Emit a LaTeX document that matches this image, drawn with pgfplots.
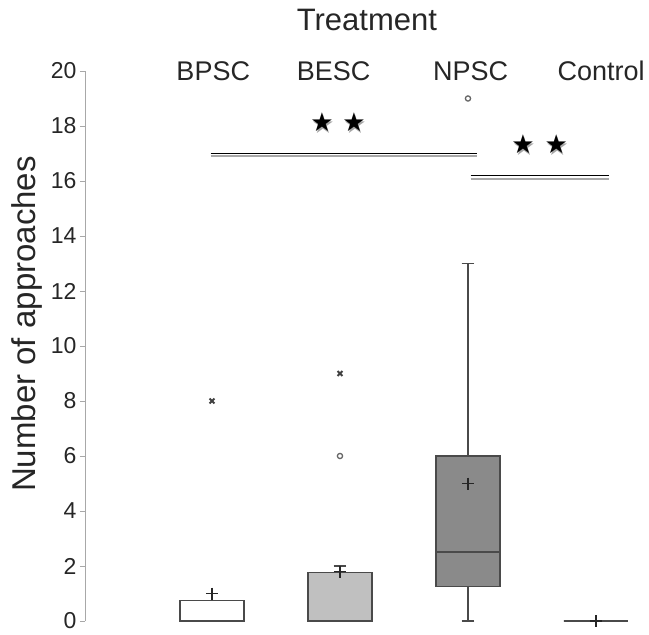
\documentclass[border=0pt]{standalone}
\usepackage{fontspec}
\setmainfont{Liberation Sans}
\newfontfamily\symfont{DejaVu Sans}
\usepackage{pgfplots}
\pgfplotsset{compat=1.18}
\usepgfplotslibrary{statistics}

\definecolor{edge}{HTML}{4A4A4A}
\definecolor{lightbox}{HTML}{C0C0C0}
\definecolor{darkbox}{HTML}{8A8A8A}
\definecolor{axgray}{HTML}{A8A8A8}

% star with a grey drop shadow, set as one text
\newcommand{\sigstar}[1]{%
  \node at (#1) {\symfont\fontsize{26}{26}\selectfont
    \rlap{\kern1pt\raisebox{-1.5pt}{\textcolor{gray!70}{★}}}★};}

\begin{document}
\begin{tikzpicture}
\begin{axis}[
    name=ax,
    scale only axis,
    width=560pt, height=550pt,
    xmin=0.008, xmax=4.383,
    ymin=0, ymax=20,
    clip=false,
    axis x line=none,
    axis y line*=left,
    y axis line style={axgray, line width=0.9pt, -},
    ytick={0,2,...,20},
    tick align=outside,
    major tick length=5pt,
    ytick style={axgray, line width=0.8pt},
    /pgf/number format/assume math mode=true,
    yticklabel style={font=\fontsize{23}{23}\selectfont, text=black!85},
    ylabel={Number of approaches},
    ylabel style={at={(axis description cs:-0.1036,0.54)}, anchor=center,
        font=\fontsize{33}{33}\selectfont, text=black!85},
    boxplot/draw direction=y,
    boxplot/box extend=0.5,
    boxplot/whisker extend=0.1,
    boxplot/every median/.style={draw=edge, line width=1.6pt},
]

% boxes
\addplot[boxplot prepared={draw position=1, lower whisker=0, lower quartile=0,
    median=0, upper quartile=0.75, upper whisker=0.75},
    draw=edge, line width=1.2pt, fill=white] coordinates {};
\addplot[boxplot prepared={draw position=2, lower whisker=0, lower quartile=0,
    median=0, upper quartile=1.75, upper whisker=2},
    draw=edge, line width=1.2pt, fill=lightbox] coordinates {};
\addplot[boxplot prepared={draw position=3, lower whisker=0, lower quartile=1.25,
    median=2.5, upper quartile=6, upper whisker=13},
    draw=edge, line width=1.2pt, fill=darkbox] coordinates {};
\addplot[boxplot prepared={draw position=4, lower whisker=0, lower quartile=0,
    median=0, upper quartile=0, upper whisker=0},
    draw=edge, line width=1.2pt, fill=white] coordinates {};

% means
\addplot[only marks, mark=+, mark size=6pt, mark options={black!85, line width=1.2pt}]
    coordinates {(1,1) (2,1.8) (3,5) (4,0)};

% outliers
\addplot[only marks, mark=x, mark size=3.5pt, mark options={black!75, line width=1.8pt}]
    coordinates {(1,8) (2,9)};
\addplot[only marks, mark=o, mark size=2.6pt, mark options={black!60, line width=1.3pt}]
    coordinates {(2,6) (3,19)};

% significance bars
\draw[axgray, line width=1.6pt] (axis cs:0.99,16.9) -- (axis cs:3.07,16.9);
\draw[black, line width=1.1pt] (axis cs:0.99,17.0) -- (axis cs:3.07,17.0);
\draw[axgray, line width=1.6pt] (axis cs:3.02,16.08) -- (axis cs:4.10,16.08);
\draw[black, line width=1.1pt] (axis cs:3.02,16.19) -- (axis cs:4.10,16.19);
\sigstar{axis cs:1.86,18.1}
\sigstar{axis cs:2.11,18.1}
\sigstar{axis cs:3.43,17.3}
\sigstar{axis cs:3.69,17.3}

% labels
\node[font=\fontsize{31}{31}\selectfont, text=black!85] at (axis cs:2.21,21.85) {Treatment};
\node[font=\fontsize{27}{27}\selectfont, text=black!85] at (axis cs:1.01,20) {BPSC};
\node[font=\fontsize{27}{27}\selectfont, text=black!85] at (axis cs:1.95,20) {BESC};
\node[font=\fontsize{27}{27}\selectfont, text=black!85] at (axis cs:3.02,20) {NPSC};
\node[font=\fontsize{27}{27}\selectfont, text=black!85] at (axis cs:4.04,20) {Control};
\end{axis}
\pgfresetboundingbox
\path ([xshift=-85pt,yshift=-13pt]ax.south west) rectangle ([xshift=4pt,yshift=71pt]ax.north east);
\end{tikzpicture}
\end{document}
